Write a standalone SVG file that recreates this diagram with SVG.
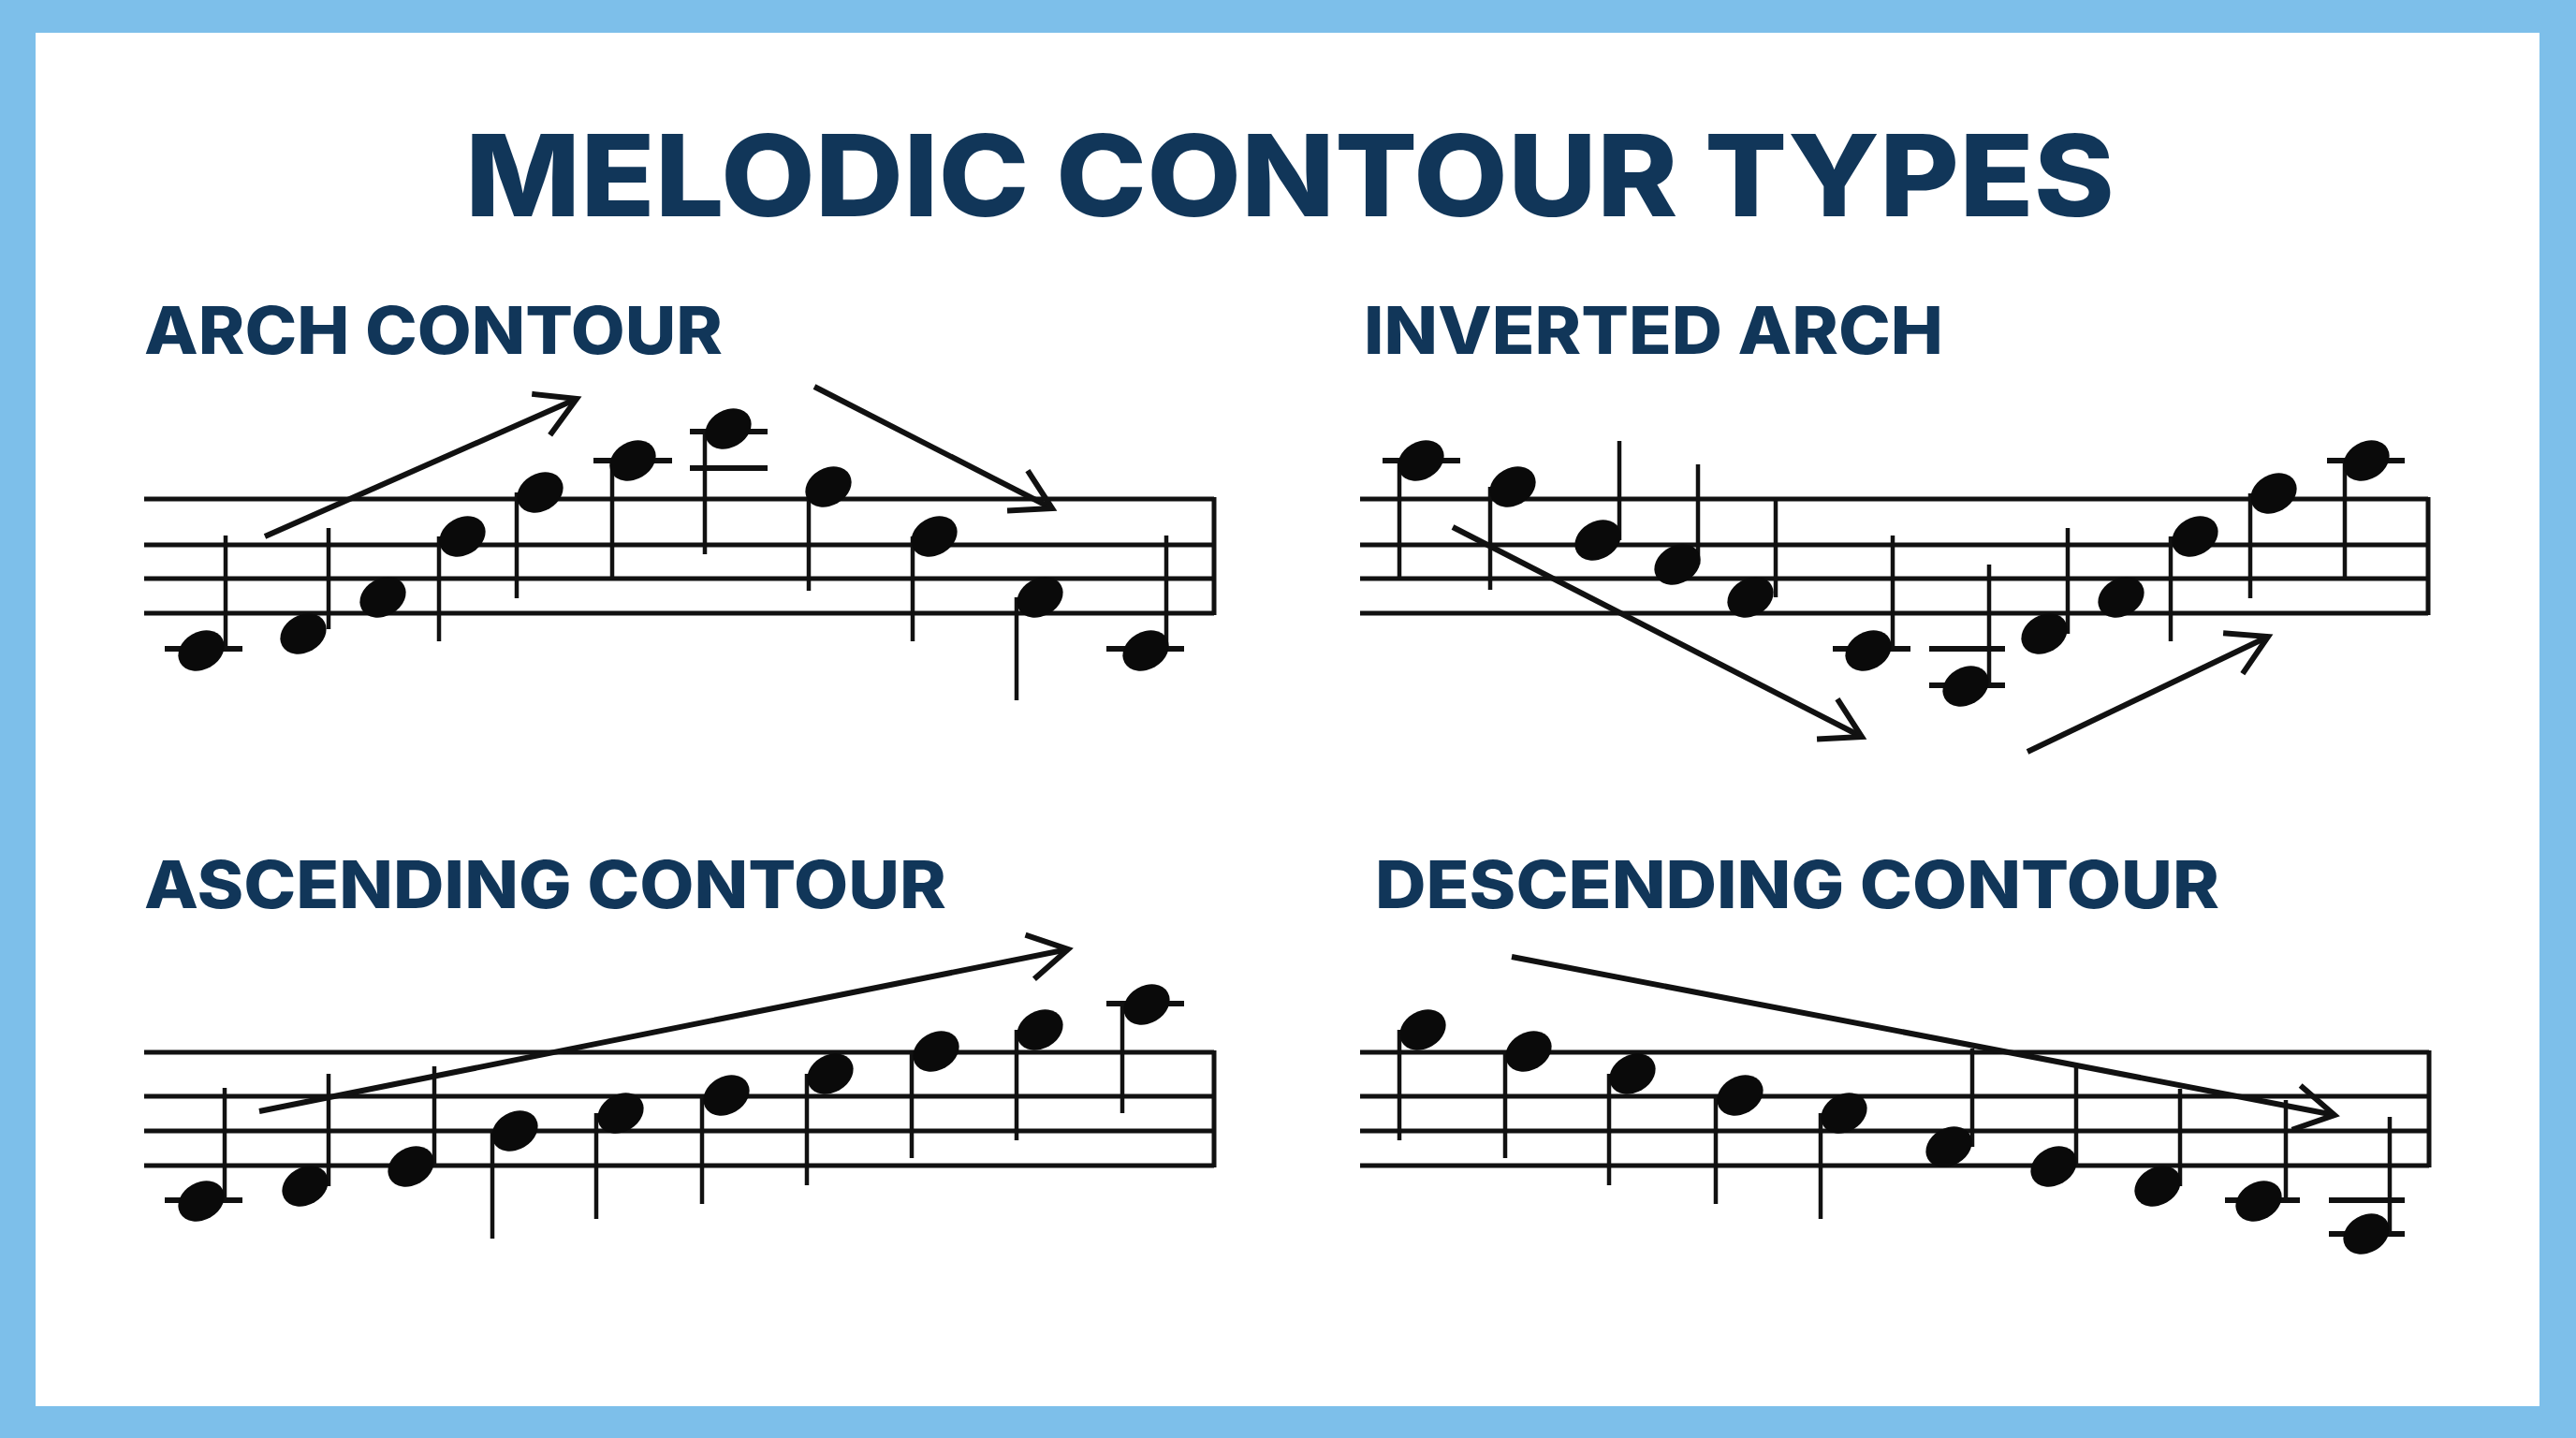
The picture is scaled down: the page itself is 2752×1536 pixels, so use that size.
<svg xmlns="http://www.w3.org/2000/svg" xmlns:xlink="http://www.w3.org/1999/xlink" width="2752" height="1536" viewBox="0 0 2752 1536">
<style>
.ttl{font-family:Inter,"Open Sans","Liberation Sans",sans-serif;font-weight:800;fill:#113659}
.staff{stroke:#111;stroke-width:5;fill:none}
.stem{stroke:#111;stroke-width:4.5}
.ledger{stroke:#111;stroke-width:6}
.arrow{stroke:#111;stroke-width:6;fill:none;marker-end:url(#chev)}
.nh{fill:#0a0a0a}
</style>
<defs>
<ellipse id="nh" rx="26" ry="20" transform="rotate(-30)"/>
<marker id="chev" markerUnits="userSpaceOnUse" orient="auto" refX="0" refY="0" markerWidth="60" markerHeight="60" viewBox="-50 -30 60 60" overflow="visible">
<path d="M -39,-22.5 L 0,0 L -39,22.5" fill="none" stroke="#111" stroke-width="6" stroke-linecap="square"/>
</marker>
</defs>
<rect x="0" y="0" width="2752" height="1536" fill="#7DBFEA"/>
<rect x="38" y="35" width="2675" height="1467" fill="#FFFFFF"/>
<text id="title" class="ttl" x="1378" y="231" font-size="121" text-anchor="middle" textLength="1762" lengthAdjust="spacingAndGlyphs">MELODIC CONTOUR TYPES</text>

<g id="arch">
<text class="ttl" x="154" y="378" font-size="70" textLength="618" lengthAdjust="spacingAndGlyphs">ARCH CONTOUR</text>
<g id="arch-staff" class="staff">
<line x1="154" y1="533" x2="1297" y2="533"/><line x1="154" y1="582" x2="1297" y2="582"/><line x1="154" y1="618" x2="1297" y2="618"/><line x1="154" y1="655" x2="1297" y2="655"/><line x1="1297" y1="531" x2="1297" y2="657"/>
</g>
<g id="arch-notes">
<g class="ledger"><line x1="176" y1="693" x2="259" y2="693"/><line x1="634" y1="492" x2="718" y2="492"/><line x1="737" y1="461" x2="820" y2="461"/><line x1="737" y1="500" x2="820" y2="500"/><line x1="1182" y1="693" x2="1265" y2="693"/></g>
<g class="stem"><line x1="241" y1="572" x2="241" y2="693"/><line x1="351" y1="564" x2="351" y2="672"/><line x1="469" y1="573" x2="469" y2="685"/><line x1="552" y1="526" x2="552" y2="639"/><line x1="654" y1="492" x2="654" y2="617"/><line x1="753" y1="458" x2="753" y2="592"/><line x1="864" y1="520" x2="864" y2="631"/><line x1="975" y1="573" x2="975" y2="685"/><line x1="1086" y1="638" x2="1086" y2="748"/><line x1="1246" y1="572" x2="1246" y2="693"/></g>
<g class="nh"><use href="#nh" x="215" y="695"/><use href="#nh" x="324" y="677"/><use href="#nh" x="409" y="638"/><use href="#nh" x="494" y="573"/><use href="#nh" x="577" y="526"/><use href="#nh" x="676" y="492"/><use href="#nh" x="778" y="458"/><use href="#nh" x="885" y="520"/><use href="#nh" x="998" y="573"/><use href="#nh" x="1111" y="638"/><use href="#nh" x="1224" y="695"/></g>
</g>
</g>

<g id="inverted">
<text class="ttl" x="1457" y="378" font-size="70" textLength="619" lengthAdjust="spacingAndGlyphs">INVERTED ARCH</text>
<g id="inv-staff" class="staff">
<line x1="1453" y1="533" x2="2594" y2="533"/><line x1="1453" y1="582" x2="2594" y2="582"/><line x1="1453" y1="618" x2="2594" y2="618"/><line x1="1453" y1="655" x2="2594" y2="655"/><line x1="2594" y1="531" x2="2594" y2="657"/>
</g>
<g id="inv-notes">
<g class="ledger"><line x1="1477" y1="492" x2="1560" y2="492"/><line x1="1958" y1="693" x2="2041" y2="693"/><line x1="2061" y1="693" x2="2142" y2="693"/><line x1="2061" y1="732" x2="2142" y2="732"/><line x1="2486" y1="492" x2="2569" y2="492"/></g>
<g class="stem"><line x1="1495" y1="492" x2="1495" y2="617"/><line x1="1592" y1="520" x2="1592" y2="630"/><line x1="1730" y1="471" x2="1730" y2="577"/><line x1="1814" y1="496" x2="1814" y2="603"/><line x1="1897" y1="533" x2="1897" y2="638"/><line x1="2022" y1="572" x2="2022" y2="695"/><line x1="2125" y1="603" x2="2125" y2="733"/><line x1="2209" y1="564" x2="2209" y2="677"/><line x1="2319" y1="573" x2="2319" y2="685"/><line x1="2404" y1="527" x2="2404" y2="639"/><line x1="2505" y1="492" x2="2505" y2="617"/></g>
<g class="nh"><use href="#nh" x="1518" y="492"/><use href="#nh" x="1616" y="520"/><use href="#nh" x="1707" y="577"/><use href="#nh" x="1792" y="603"/><use href="#nh" x="1870" y="638"/><use href="#nh" x="1996" y="695"/><use href="#nh" x="2100" y="733"/><use href="#nh" x="2184" y="677"/><use href="#nh" x="2266" y="638"/><use href="#nh" x="2345" y="573"/><use href="#nh" x="2429" y="527"/><use href="#nh" x="2528" y="492"/></g>
</g>
</g>

<g id="ascending">
<text class="ttl" x="154" y="970" font-size="70" textLength="857" lengthAdjust="spacingAndGlyphs">ASCENDING CONTOUR</text>
<g id="asc-staff" class="staff">
<line x1="154" y1="1124" x2="1297" y2="1124"/><line x1="154" y1="1171" x2="1297" y2="1171"/><line x1="154" y1="1208" x2="1297" y2="1208"/><line x1="154" y1="1245" x2="1297" y2="1245"/><line x1="1297" y1="1122" x2="1297" y2="1247"/>
</g>
<g id="asc-notes">
<g class="ledger"><line x1="176" y1="1282" x2="259" y2="1282"/><line x1="1182" y1="1072" x2="1265" y2="1072"/></g>
<g class="stem"><line x1="240" y1="1162" x2="240" y2="1283"/><line x1="351" y1="1147" x2="351" y2="1267"/><line x1="464" y1="1139" x2="464" y2="1246"/><line x1="526" y1="1208" x2="526" y2="1323"/><line x1="637" y1="1189" x2="637" y2="1302"/><line x1="750" y1="1170" x2="750" y2="1286"/><line x1="862" y1="1147" x2="862" y2="1266"/><line x1="974" y1="1123" x2="974" y2="1237"/><line x1="1086" y1="1100" x2="1086" y2="1218"/><line x1="1199" y1="1073" x2="1199" y2="1189"/></g>
<g class="nh"><use href="#nh" x="215" y="1283"/><use href="#nh" x="326" y="1267"/><use href="#nh" x="439" y="1246"/><use href="#nh" x="550" y="1208"/><use href="#nh" x="663" y="1189"/><use href="#nh" x="776" y="1170"/><use href="#nh" x="887" y="1147"/><use href="#nh" x="1000" y="1123"/><use href="#nh" x="1111" y="1100"/><use href="#nh" x="1225" y="1073"/></g>
</g>
</g>

<g id="descending">
<text class="ttl" x="1469" y="970" font-size="70" textLength="902" lengthAdjust="spacingAndGlyphs">DESCENDING CONTOUR</text>
<g id="desc-staff" class="staff">
<line x1="1453" y1="1124" x2="2595" y2="1124"/><line x1="1453" y1="1171" x2="2595" y2="1171"/><line x1="1453" y1="1208" x2="2595" y2="1208"/><line x1="1453" y1="1245" x2="2595" y2="1245"/><line x1="2595" y1="1122" x2="2595" y2="1247"/>
</g>
<g id="desc-notes">
<g class="ledger"><line x1="2377" y1="1282" x2="2457" y2="1282"/><line x1="2488" y1="1282" x2="2569" y2="1282"/><line x1="2488" y1="1318" x2="2569" y2="1318"/></g>
<g class="stem"><line x1="1495" y1="1100" x2="1495" y2="1218"/><line x1="1608" y1="1123" x2="1608" y2="1237"/><line x1="1719" y1="1147" x2="1719" y2="1266"/><line x1="1833" y1="1170" x2="1833" y2="1286"/><line x1="1945" y1="1189" x2="1945" y2="1302"/><line x1="2107" y1="1120" x2="2107" y2="1225"/><line x1="2218" y1="1140" x2="2218" y2="1246"/><line x1="2329" y1="1163" x2="2329" y2="1267"/><line x1="2442" y1="1175" x2="2442" y2="1283"/><line x1="2553" y1="1193" x2="2553" y2="1318"/></g>
<g class="nh"><use href="#nh" x="1520" y="1100"/><use href="#nh" x="1633" y="1123"/><use href="#nh" x="1744" y="1147"/><use href="#nh" x="1859" y="1170"/><use href="#nh" x="1970" y="1189"/><use href="#nh" x="2082" y="1225"/><use href="#nh" x="2194" y="1246"/><use href="#nh" x="2305" y="1267"/><use href="#nh" x="2413" y="1283"/><use href="#nh" x="2528" y="1318"/></g>
</g>
</g>

<g id="connectors">
<line class="arrow" x1="283" y1="573" x2="616" y2="426"/>
<line class="arrow" x1="870" y1="413" x2="1124" y2="543"/>
<line class="arrow" x1="1552" y1="563" x2="1989" y2="787"/>
<line class="arrow" x1="2166" y1="803" x2="2423" y2="680"/>
<line class="arrow" x1="277" y1="1187" x2="1141" y2="1014"/>
<line class="arrow" x1="1615" y1="1022" x2="2494" y2="1191"/>
</g>
</svg>
